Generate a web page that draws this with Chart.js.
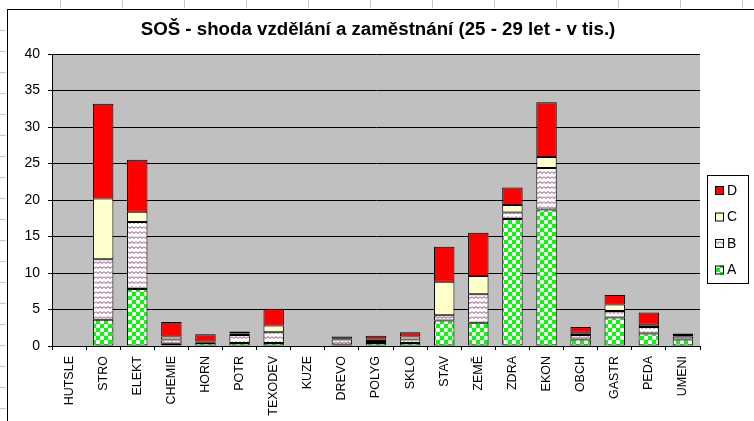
<!DOCTYPE html>
<html>
<head>
<meta charset="utf-8">
<script src="https://cdn.jsdelivr.net/npm/chart.js@4"></script>
<style>
  html, body { margin: 0; padding: 0; background: #fff; }
  #wrap { position: relative; width: 754px; height: 421px; }
</style>
</head>
<body>
<div id="wrap"><canvas id="graf" width="754" height="421"></canvas></div>
<script>
// Obory SOŠ
const kategorie = ['HUTSLE', 'STRO', 'ELEKT', 'CHEMIE', 'HORN', 'POTR', 'TEXODEV', 'KUZE', 'DREVO', 'POLYG',
    'SKLO', 'STAV', 'ZEMĚ', 'ZDRA', 'EKON', 'OBCH', 'GASTR', 'PEDA', 'UMENI'];

// Hodnoty (tis.) pro jednotlivé skupiny
const serieA = [0, 3.6, 7.8, 0.3, 0.4, 0.4, 0.4, 0, 0.2, 0.4, 0.4, 3.5, 3.2, 17.4, 18.7, 0.9, 3.9, 1.7, 0.9];
const serieB = [0, 8.3, 9.2, 0.6, 0.1, 1.1, 1.5, 0, 0.7, 0.3, 0.5, 0.7, 3.9, 0.9, 5.7, 0.6, 0.9, 0.9, 0.4];
const serieC = [0, 8.3, 1.4, 0.4, 0.1, 0.2, 0.9, 0, 0.1, 0.2, 0.4, 4.6, 2.5, 1.0, 1.5, 0.3, 0.9, 0.3, 0.2];
const serieD = [0, 13.0, 7.1, 2.0, 1.0, 0.3, 2.3, 0, 0.3, 0.5, 0.6, 4.8, 5.9, 2.4, 7.5, 0.8, 1.3, 1.7, 0.2];

const osaY = { min: 0, max: 40, krok: 5 };
const titulek = 'SOŠ - shoda vzdělání a zaměstnání (25 - 29 let - v tis.)';

const pismo = "'Liberation Sans', Arial, sans-serif";

// Vzory výplně
function vzorSachovnice() {
    const c = document.createElement('canvas');
    c.width = 8; c.height = 8;
    const g = c.getContext('2d');
    g.fillStyle = '#ffffff';
    g.fillRect(0, 0, 8, 8);
    g.fillStyle = '#00ff00';
    g.fillRect(0, 0, 4, 4);
    g.fillRect(4, 4, 4, 4);
    return g.createPattern(c, 'repeat');
}

function vzorVlnky() {
    const c = document.createElement('canvas');
    c.width = 8; c.height = 5;
    const g = c.getContext('2d');
    g.fillStyle = '#ffffff';
    g.fillRect(0, 0, 8, 5);
    g.strokeStyle = '#993366';
    g.lineWidth = 1;
    g.beginPath();
    g.moveTo(0, 1.5);
    g.lineTo(2, 3.5);
    g.lineTo(4, 1.5);
    g.lineTo(6, 3.5);
    g.lineTo(8, 1.5);
    g.stroke();
    return g.createPattern(c, 'repeat');
}

const vyplnA = vzorSachovnice();
const vyplnB = vzorVlnky();

// Pozadí, rámeček a šedá plocha grafu
const pozadiPlugin = {
    id: 'pozadi',
    beforeDraw(chart) {
        const { ctx, chartArea: a } = chart;
        ctx.save();
        ctx.fillStyle = '#ffffff';
        ctx.fillRect(0, 0, chart.width, chart.height);
        // mřížka listu za grafem
        ctx.strokeStyle = '#c8c8c8';
        ctx.lineWidth = 1;
        for (let x = 60; x < chart.width; x += 62) {
            ctx.beginPath();
            ctx.moveTo(x + 0.5, 0);
            ctx.lineTo(x + 0.5, 8);
            ctx.stroke();
        }
        for (let y = 30; y < chart.height; y += 21) {
            ctx.beginPath();
            ctx.moveTo(0, y + 0.5);
            ctx.lineTo(6, y + 0.5);
            ctx.stroke();
        }
        ctx.fillStyle = '#ffffff';
        ctx.fillRect(7, 9, chart.width - 7, chart.height - 9);
        ctx.strokeStyle = '#000000';
        ctx.strokeRect(7.5, 9.5, chart.width + 5, chart.height + 5);
        ctx.fillStyle = '#c0c0c0';
        ctx.fillRect(a.left, a.top, a.right - a.left, a.bottom - a.top);
        ctx.restore();
    },
    afterDraw(chart) {
        const { ctx } = chart;
        ctx.save();
        ctx.font = 'bold 18.7px ' + pismo;
        ctx.fillStyle = '#000000';
        ctx.textAlign = 'center';
        ctx.textBaseline = 'middle';
        ctx.fillText(titulek, 378, 30);
        ctx.restore();
    }
};

// Legenda vpravo (pořadí D, C, B, A)
const legendaPlugin = {
    id: 'legenda',
    afterDraw(chart) {
        const { ctx } = chart;
        const x = 707, y = 175, w = 41, h = 108;
        ctx.save();
        ctx.fillStyle = '#ffffff';
        ctx.fillRect(x, y, w, h);
        ctx.strokeStyle = '#000000';
        ctx.lineWidth = 1;
        ctx.strokeRect(x + 0.5, y + 0.5, w, h);
        const sady = chart.data.datasets.slice().reverse();
        ctx.font = '14px ' + pismo;
        ctx.textBaseline = 'middle';
        sady.forEach((ds, i) => {
            const cy = y + 15 + i * 26.5;
            ctx.fillStyle = ds.backgroundColor;
            ctx.fillRect(x + 8, cy - 4, 9, 9);
            ctx.strokeStyle = '#000000';
            ctx.strokeRect(x + 8.5, cy - 3.5, 8, 8);
            ctx.fillStyle = '#000000';
            ctx.fillText(ds.label, x + 20, cy + 1);
        });
        ctx.restore();
    }
};

function sada(label, data, barva) {
    return {
        label,
        data,
        backgroundColor: barva,
        borderColor: '#000000',
        borderWidth: 1,
        borderSkipped: false,
        barPercentage: 0.6,
        categoryPercentage: 1
    };
}

new Chart(document.getElementById('graf'), {
    type: 'bar',
    data: {
        labels: kategorie,
        datasets: [
            sada('A', serieA, vyplnA),
            sada('B', serieB, vyplnB),
            sada('C', serieC, '#ffffcc'),
            sada('D', serieD, '#ff0000')
        ]
    },
    plugins: [pozadiPlugin, legendaPlugin],
    options: {
        responsive: false,
        animation: false,
        layout: { padding: { left: 8, right: 54, top: 54, bottom: 0 } },
        plugins: {
            legend: { display: false },
            tooltip: { enabled: false },
            title: { display: false }
        },
        scales: {
            x: {
                stacked: true,
                offset: true,
                afterFit: s => { s.height = 75; },
                grid: { drawOnChartArea: false, drawTicks: true, tickLength: 4, color: '#000000', offset: true },
                border: { color: '#000000' },
                ticks: {
                    autoSkip: false,
                    minRotation: 90,
                    maxRotation: 90,
                    padding: 6,
                    color: '#000000',
                    font: { family: pismo, size: 12.5 }
                }
            },
            y: {
                stacked: true,
                min: osaY.min,
                max: osaY.max,
                afterFit: s => { s.width = 44; },
                grid: { color: '#000000', tickLength: 4, drawTicks: true },
                border: { color: '#000000' },
                ticks: {
                    stepSize: osaY.krok,
                    padding: 8,
                    color: '#000000',
                    font: { family: pismo, size: 14 }
                }
            }
        }
    }
});
</script>
</body>
</html>
